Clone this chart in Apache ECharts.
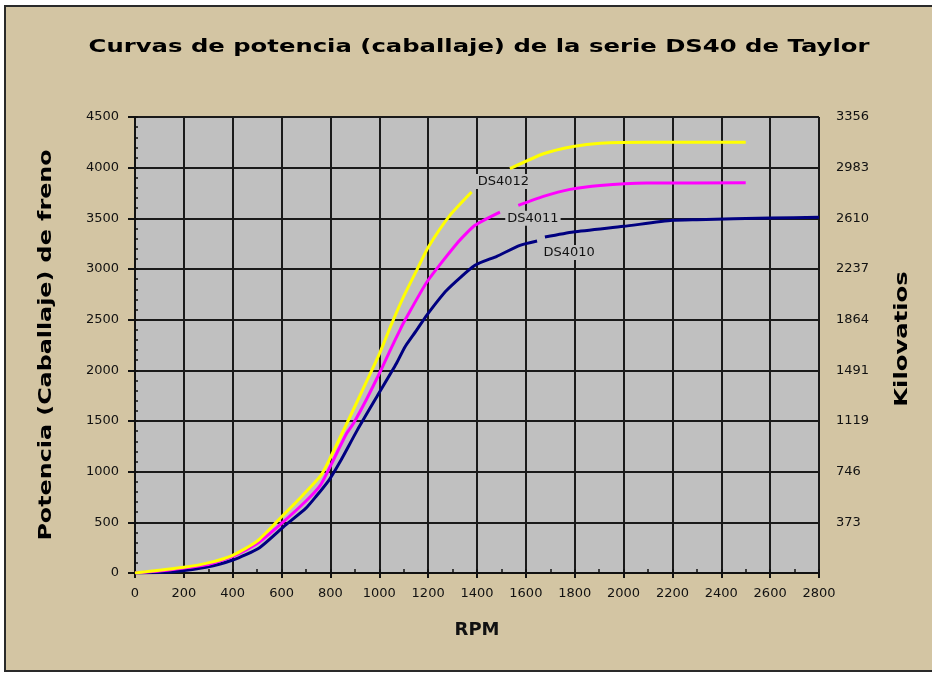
<!DOCTYPE html>
<html>
<head>
<meta charset="utf-8">
<script src="https://cdn.jsdelivr.net/npm/echarts@6/dist/echarts.min.js"></script>
<style>
    html, body { margin: 0; padding: 0; background: #fff; overflow: hidden; }
    #chart { width: 932px; height: 675px; }
</style>
</head>
<body>
<div id="chart"></div>
<script>
// RPM / caballaje; '-' = hueco donde va la etiqueta
var ds4010 = [[0,0],[160,13],[290,56],[400,128],[510,250],[610,460],[700,640],[740,752],[795,920],[840,1100],
    [910,1410],[990,1740],[1070,2067],[1105,2231],[1153,2396],[1194,2543],[1276,2790],[1392,3036],[1481,3125],
    [1576,3233],[1646,3276],[1660,'-'],[1678,3315],[1794,3365],[2000,3421],[2200,3480],[2300,3487],[2600,3503],[2800,3510]];
var ds4011 = [[0,0],[140,30],[290,80],[400,165],[500,290],[600,490],[700,710],[760,870],[805,1080],[866,1377],
    [894,1476],[950,1725],[1010,2018],[1045,2200],[1085,2400],[1105,2494],[1195,2872],[1317,3250],[1392,3431],
    [1494,3562],[1530,'-'],[1569,3628],[1672,3717],[1781,3786],[1904,3825],[2095,3848],[2500,3850]];
var ds4012 = [[0,0],[100,28],[200,56],[300,100],[400,175],[500,315],[590,530],[670,725],[760,960],[800,1140],
    [870,1490],[950,1900],[1000,2160],[1051,2461],[1100,2730],[1153,2987],[1201,3217],[1289,3529],[1378,3760],
    [1450,'-'],[1535,3990],[1672,4137],[1794,4209],[1904,4242],[2095,4252],[2500,4252]];
var seriesNames = ['DS4010', 'DS4011', 'DS4012'];
var seriesColors = ['#000080', '#FF00FF', '#FFFF00'];
// posicion (centro) de cada etiqueta en RPM / caballaje
var labelSpots = [[1777, 3164], [1629, 3500], [1508, 3864]];
var kwLabels = ['', '373', '746', '1119', '1491', '1864', '2237', '2610', '2983', '3356'];

var FONT = 'DejaVu Sans';
var chart = echarts.init(document.getElementById('chart'));

// texto ancho (espaciado como el original)
function wideText(txt, x, y, size, sx, rot) {
    return {
        type: 'text', x: x, y: y, rotation: rot || 0, scaleX: sx, z: 10,
        style: {
            text: txt, fill: '#000',
            font: 'bold ' + size + 'px "' + FONT + '"',
            align: 'center', verticalAlign: 'middle',
            textAlign: 'center', textVerticalAlign: 'middle'
        }
    };
}

var series = [ds4010, ds4011, ds4012].map(function (d, i) {
    return {
        name: seriesNames[i],
        type: 'line',
        data: d,
        showSymbol: false,
        connectNulls: false,
        smooth: 0.2,
        lineStyle: { color: seriesColors[i], width: 3 },
        itemStyle: { color: seriesColors[i] },
        markPoint: {
            symbol: 'circle',
            symbolSize: 1,
            itemStyle: { color: 'transparent' },
            label: {
                show: true,
                formatter: seriesNames[i],
                color: '#111',
                fontFamily: FONT,
                fontSize: 13,
                backgroundColor: '#C0C0C0',
                padding: [1, 2]
            },
            data: [{ coord: labelSpots[i] }]
        }
    };
});

var plain = function (v) { return String(v); };

chart.setOption({
    backgroundColor: '#fff',
    animation: false,
    graphic: [{
        type: 'rect',
        z: -10,
        shape: { x: 5, y: 6, width: 990, height: 665 },
        style: { fill: '#D3C5A3' }
    }, {
        type: 'polyline',
        z: -9,
        shape: { points: [[990, 6], [5, 6], [5, 671], [990, 671]] },
        style: { stroke: '#2a2a2a', lineWidth: 2, fill: null }
    },
        wideText('Curvas de potencia (caballaje) de la serie DS40 de Taylor', 479, 47, 18, 1.35, 0),
        wideText('Potencia (Caballaje) de freno', 47, 345, 17, 1.4, Math.PI / 2),
        wideText('Kilovatios', 903, 339, 17, 1.43, Math.PI / 2)
    ],
    grid: {
        left: 135, right: 113, top: 117, bottom: 102,
        show: true,
        backgroundColor: '#C0C0C0',
        borderColor: '#8a8a8a',
        borderWidth: 1
    },
    xAxis: [{
        type: 'value',
        min: 0, max: 2800, interval: 200,
        name: 'RPM',
        nameLocation: 'middle',
        nameGap: 48,
        nameTextStyle: { fontFamily: FONT, fontWeight: 'bold', fontSize: 18, color: '#111' },
        axisLine: { show: true, lineStyle: { color: '#111', width: 2 } },
        axisTick: { show: true, length: 5, lineStyle: { color: '#111', width: 2 } },
        axisLabel: { margin: 14, fontFamily: FONT, fontSize: 13, color: '#111', formatter: plain },
        splitLine: { show: true, lineStyle: { color: '#1a1a1a', width: 2 } }
    }, {
        type: 'value',
        min: 0, max: 2800, interval: 100,
        position: 'bottom',
        axisLine: { show: false },
        axisTick: { show: true, inside: true, length: 4, lineStyle: { color: '#111', width: 1.5 } },
        axisLabel: { show: false },
        splitLine: { show: false }
    }],
    yAxis: [{
        type: 'value',
        min: 0, max: 4500, interval: 500,
        position: 'left',
        axisLine: { show: true, lineStyle: { color: '#111', width: 2 } },
        axisTick: { show: true, length: 7, lineStyle: { color: '#111', width: 2 } },
        axisLabel: { margin: 16, fontFamily: FONT, fontSize: 13, color: '#111', formatter: plain },
        splitLine: { show: true, lineStyle: { color: '#1a1a1a', width: 2 } }
    }, {
        type: 'value',
        min: 0, max: 4500, interval: 500,
        position: 'right',
        axisLine: { show: false },
        axisTick: { show: false },
        axisLabel: {
            margin: 17,
            align: 'left',
            fontFamily: FONT, fontSize: 13, color: '#111',
            formatter: function (v) { return kwLabels[Math.round(v / 500)]; }
        },
        splitLine: { show: false }
    }, {
        type: 'value',
        min: 0, max: 4500, interval: 100,
        position: 'left',
        axisLine: { show: false },
        axisTick: { show: true, inside: true, length: 3, lineStyle: { color: '#111', width: 1.5 } },
        axisLabel: { show: false },
        splitLine: { show: false }
    }],
    series: series
});
</script>
</body>
</html>
